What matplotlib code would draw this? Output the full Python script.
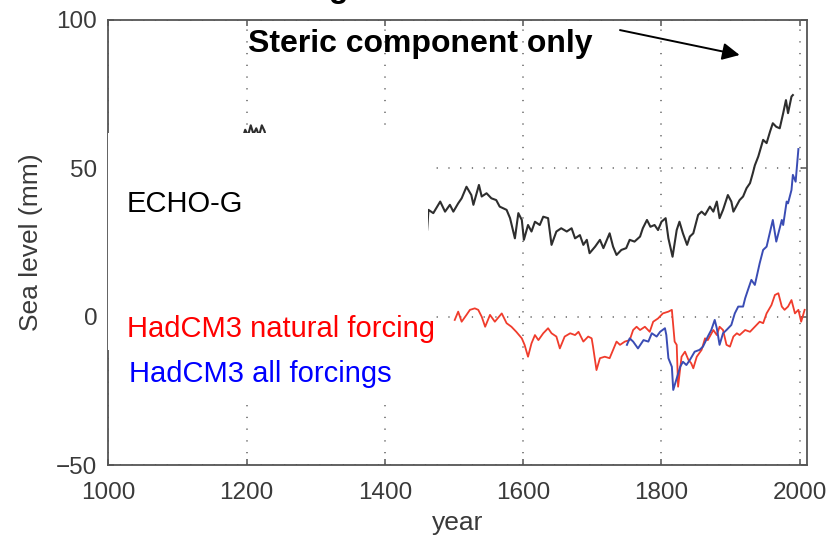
import matplotlib
matplotlib.use("Agg")
import matplotlib.pyplot as plt
from matplotlib.patches import Rectangle

plt.rcParams['font.family'] = ['Liberation Sans', 'DejaVu Sans']

# ECHO-G (black), mm
echo_years = [1000, 1050, 1100, 1150, 1190,
              1198, 1202, 1206, 1210, 1214,
              1218, 1222, 1226, 1232, 1280,
              1330, 1380, 1430, 1455, 1461,
              1463, 1470, 1480, 1487, 1494,
              1499, 1506, 1511, 1518, 1525,
              1528, 1536, 1540, 1547, 1554,
              1561, 1566, 1576, 1581, 1588,
              1593, 1598, 1601, 1607, 1612,
              1617, 1624, 1629, 1636, 1641,
              1648, 1655, 1663, 1670, 1675,
              1682, 1687, 1692, 1696, 1704,
              1711, 1716, 1725, 1730, 1735,
              1742, 1749, 1754, 1761, 1769,
              1773, 1779, 1784, 1790, 1795,
              1800, 1806, 1810, 1816, 1822,
              1826, 1831, 1837, 1841, 1846,
              1853, 1858, 1863, 1870, 1875,
              1880, 1884, 1889, 1896, 1901,
              1904, 1913, 1918, 1923, 1928,
              1932, 1935, 1940, 1947, 1952,
              1957, 1961, 1966, 1971, 1976,
              1980, 1983, 1988, 1990]
echo_vals = [48, 52, 50, 55, 57,
             63, 61, 64.5, 61.5, 63.5,
             61, 64.5, 62.5, 56, 50,
             47, 45, 40, 33, 29,
             36, 34.9, 38.8, 35.4, 37.7,
             35.4, 38.2, 39.9, 43.8, 41,
             37.7, 44.4, 40.5, 41.6, 39.9,
             39.3, 37.1, 36, 33.2, 26.4,
             34.9, 32.6, 25.9, 30.9, 28.7,
             32, 30.9, 33.7, 33.2, 24.2,
             28.7, 29.8, 28.7, 29.8, 26.4,
             27.5, 24.2, 25.9, 21.4, 23.6,
             25.9, 23.1, 28.1, 23.6, 20.8,
             22.5, 23.1, 25.9, 25.3, 27,
             29.8, 32.6, 30.3, 30.9, 29.2,
             32, 33.2, 26.4, 20.2, 29.2,
             32, 28.1, 24.2, 27, 28.1,
             34.3, 35.4, 34.3, 37.1, 35.4,
             38.8, 33.2, 36, 41, 38.8,
             35.4, 39.3, 40.5, 43.3, 45,
             48.3, 51, 54, 59.6, 58.5,
             62.4, 65.2, 64, 63.5, 68.6,
             73, 68.6, 74.2, 74.7]

# HadCM3 natural forcing (red)
nat_years = [1501, 1506, 1511, 1518, 1523, 1530, 1535, 1540, 1545, 1552,
             1559, 1569, 1576, 1583, 1590, 1598, 1602, 1607, 1612, 1617,
             1622, 1629, 1636, 1641, 1648, 1653, 1660, 1668, 1675, 1680,
             1687, 1694, 1699, 1701, 1706, 1711, 1718, 1725, 1730, 1735,
             1740, 1747, 1754, 1759, 1764, 1769, 1776, 1783, 1788, 1795,
             1802, 1810, 1815, 1819, 1822, 1824, 1829, 1834, 1839, 1843,
             1846, 1851, 1858, 1863, 1867, 1875, 1880, 1884, 1889, 1894,
             1899, 1904, 1909, 1913, 1921, 1928, 1935, 1942, 1947, 1952,
             1959, 1964, 1969, 1974, 1978, 1983, 1988, 1993, 1998, 2002,
             2007]
nat_vals = [-1.1, 1.7, -1.7, 0.6, 2.3, 2.8, 2.3, 0, -3.4, 0.6,
            -1.7, 1.1, -2.2, -3.4, -5.1, -7.3, -9.5, -13.5, -9, -6.2,
            -7.9, -5.6, -3.9, -5.6, -6.7, -10.7, -6.7, -5.6, -6.2, -5.1,
            -8.4, -6.7, -7.3, -10.1, -18, -14, -13.5, -14, -11.2, -8.4,
            -9.5, -8.4, -7.9, -4.5, -3.4, -4.5, -3.4, -5.1, -1.7, -0.6,
            1.1, 1.7, 2.3, -8.4, -9.5, -23.6, -13.5, -11.8, -14.6, -15.7,
            -17.4, -13.5, -11.2, -7.3, -7.9, -4.5, -6.2, -3.4, -4.5, -9.5,
            -10.1, -6.7, -5.6, -6.2, -4.5, -5.1, -3.4, -1.7, -2.2, 1.1,
            3.9, 7.3, 7.9, 3.4, 2.3, 3.4, 5.6, 1.1, 2.3, -1.7,
            2.3]

# HadCM3 all forcings (blue)
all_years = [1750, 1754, 1759, 1766, 1774, 1781, 1786, 1793, 1798, 1805,
             1807, 1810, 1815, 1817, 1822, 1827, 1831, 1836, 1841, 1848,
             1855, 1860, 1867, 1872, 1877, 1880, 1884, 1889, 1894, 1901,
             1906, 1911, 1918, 1921, 1925, 1930, 1935, 1942, 1947, 1952,
             1961, 1966, 1974, 1976, 1981, 1983, 1988, 1990, 1994, 1998]
all_vals = [-9.5, -7.3, -8.4, -10.7, -7.9, -8.4, -5.6, -6.7, -5.1, -3.9,
            -6.2, -14, -16.9, -24.7, -20.8, -16.9, -15.2, -16.3, -14.6, -11.8,
            -11.2, -10.1, -6.7, -4.5, -1.1, -3.9, -9.5, -5.6, -4.5, -2.8,
            1.1, 3.4, 3.4, 6.2, 9, 12.4, 10.7, 18, 22.5, 23.6,
            32.6, 25.3, 32.6, 30.9, 38.8, 38.2, 42.7, 47.8, 45.5, 56.5]

x_ticks = [1000, 1200, 1400, 1600, 1800, 2000]
y_ticks = [-50, 0, 50, 100]

W, H = 832, 535


def px(x, y):
    return x / W, 1 - y / H


fig = plt.figure(figsize=(W / 100, H / 100), dpi=100)
ax = fig.add_axes([108.3 / W, 1 - 465 / H, 698.4 / W, 445 / H])

ax.plot(echo_years, echo_vals, color='#2e2e2e', lw=1.5)
ax.plot(nat_years, nat_vals, color='#f03c2c', lw=1.3)
ax.plot(all_years, all_vals, color='#3a4cb4', lw=1.4)

ax.set_xlim(1000, 2010)
ax.set_ylim(-50, 100)
ax.set_xticks(x_ticks)
ax.set_yticks(y_ticks)
ax.grid(True, color='#7a7a7a', lw=1.3, linestyle=(0, (0.7, 5.8)))
ax.tick_params(direction='in', length=4.5, width=1.1, color='#555555',
               labelcolor='#3a3a3a', labelsize=17.5, top=True, right=True)
ax.tick_params(axis='x', pad=12)
ax.tick_params(axis='y', pad=8)
for s in ax.spines.values():
    s.set_color('#555555')
    s.set_linewidth(1.3)

ax.set_xlabel('year', fontsize=19, color='#3a3a3a')
ax.set_ylabel('Sea level (mm)', fontsize=19, color='#3a3a3a')
ax.xaxis.set_label_coords(0.5, -0.103)
ax.yaxis.set_label_coords(-0.0935, 0.5)

ax.annotate('', xy=(1913, 88.2), xytext=(1740, 96.6),
            arrowprops=dict(arrowstyle='-|>', color='black', lw=1.4,
                            mutation_scale=26, shrinkA=0, shrinkB=0))

# white patch over the left part of the panel
for (x0, y0, x1, y1) in [(108.0, 133, 428, 350), (109.5, 350, 428, 398)]:
    fig.add_artist(Rectangle(px(x0, y1), (x1 - x0) / W, (y1 - y0) / H,
                             transform=fig.transFigure, facecolor='white',
                             edgecolor='none', zorder=5))

fig.text(*px(248, 52), 'Steric component only', fontsize=23,
         fontweight='bold', va='baseline', zorder=6)
fig.text(*px(339, -2.7), 'g', fontsize=23, fontweight='bold',
         ha='center', va='baseline', zorder=6)
fig.text(*px(126.7, 211.7), 'ECHO-G', fontsize=21, color='black',
         va='baseline', zorder=6)
fig.text(*px(127.3, 336.7), 'HadCM3 natural forcing', fontsize=21,
         color='#ff0000', va='baseline', zorder=6)
fig.text(*px(129.3, 381.7), 'HadCM3 all forcings', fontsize=21,
         color='#0000ff', va='baseline', zorder=6)

fig.savefig('out.png', dpi=100)
